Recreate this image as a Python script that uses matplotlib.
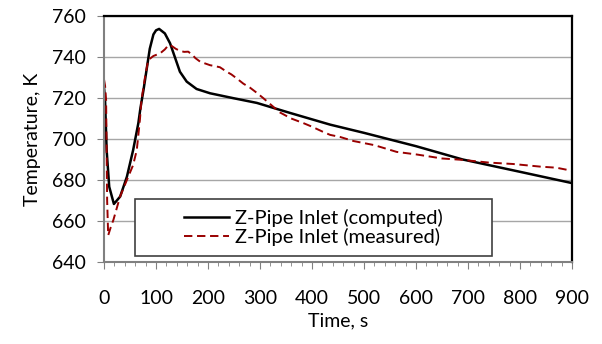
import numpy as np
import matplotlib.pyplot as plt
from matplotlib.patches import Rectangle

plt.rcParams['font.family'] = ['Lato', 'DejaVu Sans']

# computed curve
t_comp = [0, 2, 5, 10, 19, 31, 44, 56, 66, 70, 76, 82, 88, 95, 100, 106, 117,
          127, 137, 146, 159, 178, 204, 249, 294, 358, 435, 500, 600, 690,
          800, 900]
T_comp = [725, 719, 694.6, 676.7, 668.3, 671.9, 681.6, 694.6, 707.7, 715,
          724, 734, 744, 751, 753, 753.7, 751.5, 746.7, 739.4, 732.8, 728,
          724.4, 722.3, 719.9, 717.6, 712.7, 707, 703, 696.5, 690, 684, 678.5]

# measured curve
t_meas = [0, 2, 4, 6, 8, 13, 18, 31, 44, 56, 63, 69, 72, 79, 85, 95, 108,
          117, 124, 130, 138, 146, 154, 162, 170, 176, 185, 195, 204, 214,
          223, 236, 245, 255, 268, 281, 294, 306, 322, 338, 360, 383, 400,
          422, 435, 454, 480, 520, 563, 600, 650, 690, 740, 787, 840, 870, 900]
T_meas = [729, 726, 719, 670, 653, 657, 660.5, 672, 680, 687.3, 694.6, 709.3,
          719, 730.4, 738.5, 740.5, 741.8, 743.7, 745.8, 745.4, 744, 743,
          742.5, 742.6, 741, 739.4, 737.7, 736.8, 736, 735.5, 735, 732.8,
          731.5, 729.6, 727, 725, 722.5, 720, 716.5, 713, 710, 707.8, 706,
          703.4, 702, 701, 699, 697, 693.7, 692.5, 690.5, 689.8, 688.5, 687.8,
          686.5, 686, 684.5]

fig = plt.figure(figsize=(6.02, 3.44), dpi=100)
ax = fig.add_axes([0.1728, 0.2384, 0.7772, 0.7151])

ax.plot(t_comp, T_comp, color='black', lw=1.8, label='Z-Pipe Inlet (computed)')
ax.plot(t_meas, T_meas, color='#990000', lw=1.4, dashes=(4.3, 2.4),
        label='Z-Pipe Inlet (measured)')

ax.set_xlim(0, 900)
ax.set_ylim(640, 760)
ax.set_xticks(np.arange(0, 901, 100))
ax.set_xticks(np.arange(0, 901, 20), minor=True)
ax.set_yticks(np.arange(640, 761, 20))
ax.yaxis.grid(True, color='#a6a6a6', lw=1)
ax.set_axisbelow(True)

for s in ['left', 'bottom']:
    ax.spines[s].set_color('#808080')
    ax.spines[s].set_linewidth(1.5)
for s in ['top', 'right']:
    ax.spines[s].set_color('black')
    ax.spines[s].set_linewidth(1.6)

ax.tick_params(axis='both', which='both', direction='out', color='#808080',
               labelsize=14)
ax.tick_params(axis='x', which='major', length=5, pad=15)
ax.tick_params(axis='x', which='minor', length=3)
ax.tick_params(axis='y', length=5, pad=8)

ax.set_xlabel('Time, s', fontsize=14, labelpad=4)
ax.set_ylabel('Temperature, K', fontsize=14, labelpad=8)

# legend frame
ax.add_patch(Rectangle((0.0662, 0.0244), 0.763, 0.2317, transform=ax.transAxes,
                       facecolor='white', edgecolor='#404040', lw=1.2,
                       zorder=4))
leg = ax.legend(loc='center', bbox_to_anchor=(0.0662, 0.0244, 0.763, 0.2317),
                fontsize=14.5, frameon=False, handlelength=2.2,
                handletextpad=0.3, borderaxespad=0, borderpad=0,
                labelspacing=0.0)
leg.set_zorder(5)

fig.savefig('out.png', dpi=100)
